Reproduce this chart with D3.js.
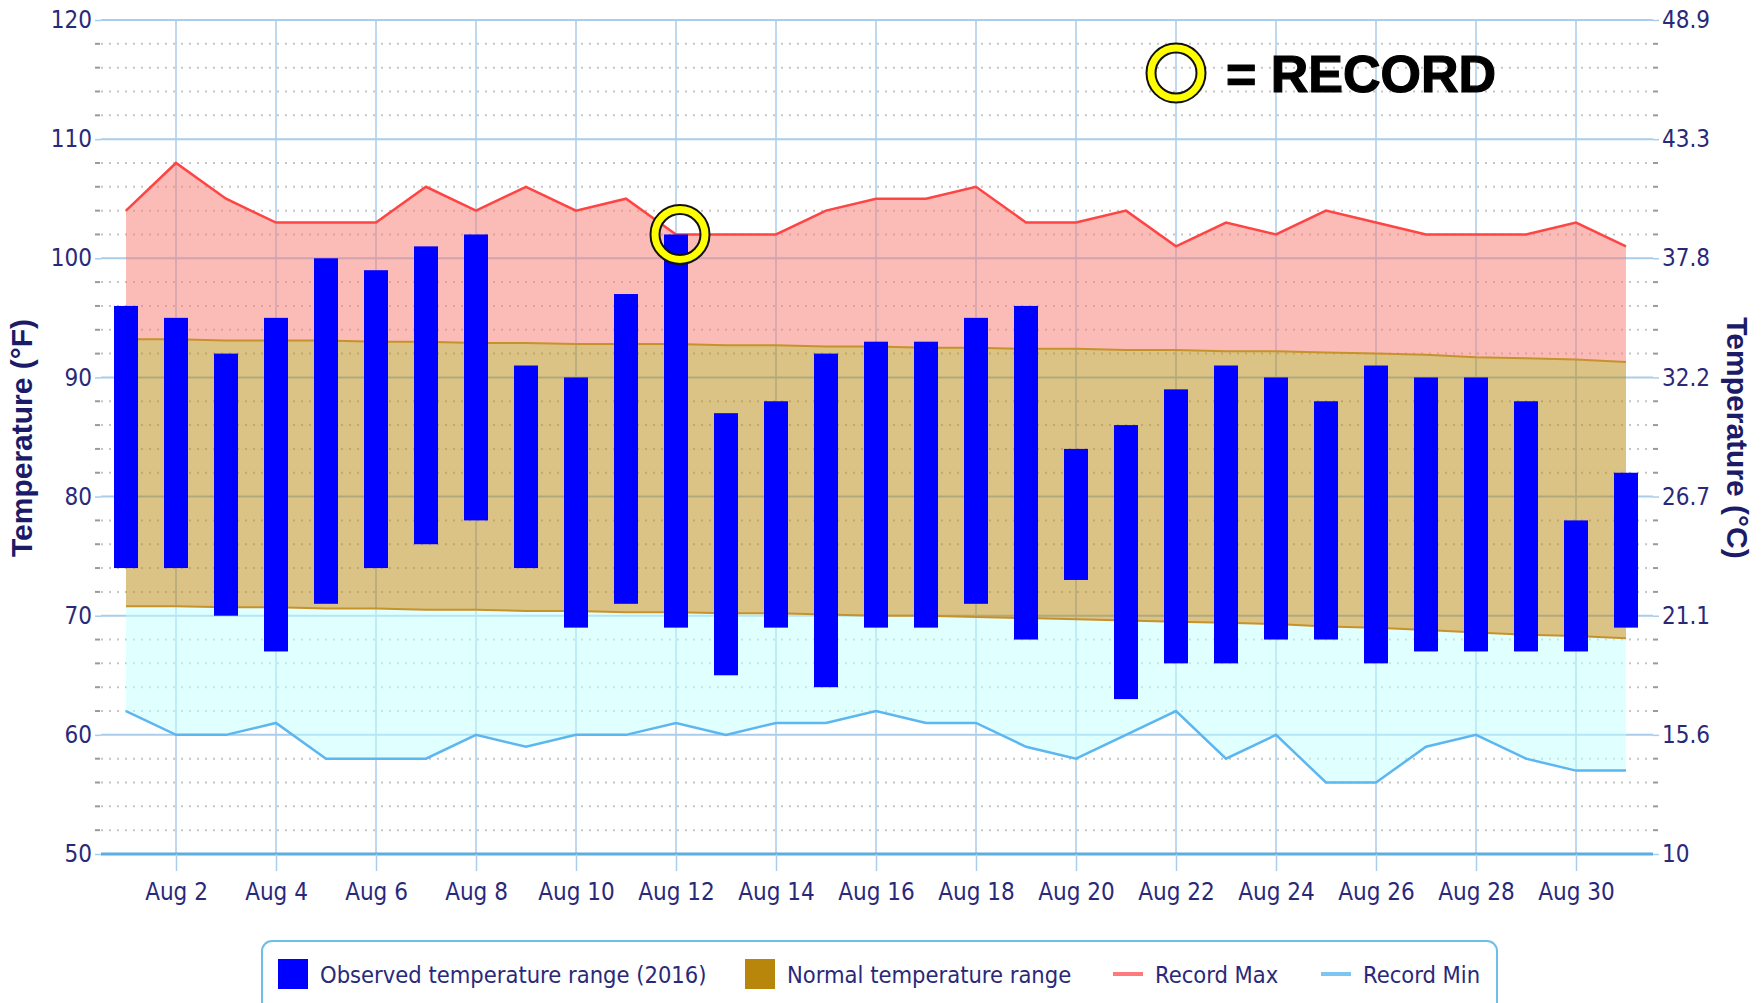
<!DOCTYPE html>
<html>
<head>
<meta charset="utf-8">
<script src="https://cdn.jsdelivr.net/npm/d3@7/dist/d3.min.js"></script>
<style>
  body { margin: 0; background: #fff; }
  svg { display: block; }
  .tick text { font-family: "DejaVu Sans Condensed", "Liberation Sans Narrow", sans-serif; fill: #29297a; }
</style>
</head>
<body>
<svg id="chart" width="1763" height="1003"></svg>
<script>
// august 2016 daily data (deg F)
var days = [1,2,3,4,5,6,7,8,9,10,11,12,13,14,15,16,17,18,19,20,21,22,23,24,25,26,27,28,29,30,31]
var obsHigh = [96,95,92,95,100,99,101,102,91,90,97,102,87,88,92,93,93,95,96,84,86,89,91,90,88,91,90,90,88,78,82]
var obsLow = [74,74,70,67,71,74,76,78,74,69,71,69,65,69,64,69,69,71,68,73,63,66,66,68,68,66,67,67,67,67,69]
var normalHigh = [93.2,93.2,93.1,93.1,93.1,93.0,93.0,92.9,92.9,92.8,92.8,92.8,92.7,92.7,92.6,92.6,92.5,92.5,92.4,92.4,92.3,92.3,92.2,92.2,92.1,92.0,91.9,91.7,91.6,91.5,91.3]
var normalLow = [70.8,70.8,70.7,70.7,70.6,70.6,70.5,70.5,70.4,70.4,70.3,70.3,70.2,70.2,70.1,70.0,70.0,69.9,69.8,69.7,69.6,69.5,69.4,69.3,69.1,69.0,68.8,68.6,68.4,68.3,68.1]
var recordMax = [104,108,105,103,103,103,106,104,106,104,105,102,102,102,104,105,105,106,103,103,104,101,103,102,104,103,102,102,102,103,101]
var recordMin = [62,60,60,61,58,58,58,60,59,60,60,61,60,61,61,62,61,61,59,58,60,62,58,60,56,56,59,60,58,57,57]

// days where the observed high set a record
var recordDays = [12]

// axis ticks
var fTicks = [50,60,70,80,90,100,110,120]
var cLabels = ['10','15.6','21.1','26.7','32.2','37.8','43.3','48.9']
var minorTicks = [52,54,56,58,62,64,66,68,72,74,76,78,82,84,86,88,92,94,96,98,102,104,106,108,112,114,116,118]
var xTickDays = [2,4,6,8,10,12,14,16,18,20,22,24,26,28,30]

var legendItems = ['Observed temperature range (2016)','Normal temperature range','Record Max','Record Min']

var rows = days.map(function(d,i){
  return {day:d, hi:obsHigh[i], lo:obsLow[i], nh:normalHigh[i], nl:normalLow[i], rmax:recordMax[i], rmin:recordMin[i]}
})

var FONT = '"DejaVu Sans Condensed","Liberation Sans Narrow",sans-serif'
var plotL = 101, plotR = 1653, plotT = 20, plotB = 854

var svg = d3.select('#chart')

var x = d3.scaleLinear().domain([0.5, 31.5]).range([plotL, plotL + 31*50])
var y = d3.scaleLinear().domain([50, 120]).range([plotB, plotT])

// minor dotted grid
svg.append('g').selectAll('line')
  .data(minorTicks).enter().append('line')
  .attr('x1', plotL).attr('x2', plotR)
  .attr('y1', function(d){return y(d)}).attr('y2', function(d){return y(d)})
  .style('stroke', '#c6c6c6').style('stroke-width', 2)
  .style('stroke-dasharray', '2,6')
svg.append('g').selectAll('line')
  .data(minorTicks).enter().append('line')
  .attr('x1', plotL - 6).attr('x2', plotL - 1)
  .attr('y1', function(d){return y(d)}).attr('y2', function(d){return y(d)})
  .style('stroke', '#9a9a9a').style('stroke-width', 2)
svg.append('g').selectAll('line')
  .data(minorTicks).enter().append('line')
  .attr('x1', plotR).attr('x2', plotR + 5)
  .attr('y1', function(d){return y(d)}).attr('y2', function(d){return y(d)})
  .style('stroke', '#9a9a9a').style('stroke-width', 2)

// vertical grid
svg.append('g').selectAll('line')
  .data(xTickDays).enter().append('line')
  .attr('x1', function(d){return x(d)}).attr('x2', function(d){return x(d)})
  .attr('y1', plotT).attr('y2', plotB)
  .style('stroke', '#a9cdea').style('stroke-width', 1.5)

// major horizontal grid
svg.append('g').selectAll('line')
  .data(fTicks).enter().append('line')
  .attr('x1', plotL).attr('x2', plotR)
  .attr('y1', function(d){return y(d)}).attr('y2', function(d){return y(d)})
  .style('stroke', function(d){return d == 50 ? '#5aaee2' : '#a9cdea'})
  .style('stroke-width', function(d){return d == 50 ? 3 : 2})

// shaded bands
function band(hiKey, loKey){
  return d3.area()
    .x(function(d){return x(d.day)})
    .y0(function(d){return y(d[loKey])})
    .y1(function(d){return y(d[hiKey])})
}
svg.append('path').datum(rows).attr('d', band('rmax','nh'))
  .style('fill', '#f87a72').style('opacity', 0.5)
svg.append('path').datum(rows).attr('d', band('nh','nl'))
  .style('fill', '#b8860b').style('opacity', 0.5)
svg.append('path').datum(rows).attr('d', band('nl','rmin'))
  .style('fill', '#c2ffff').style('opacity', 0.5)

function edge(key){
  return d3.line().x(function(d){return x(d.day)}).y(function(d){return y(d[key])})
}
svg.append('path').datum(rows).attr('d', edge('nh'))
  .style('fill','none').style('stroke','#c8922a').style('stroke-width',2)
svg.append('path').datum(rows).attr('d', edge('nl'))
  .style('fill','none').style('stroke','#c8922a').style('stroke-width',2)
svg.append('path').datum(rows).attr('d', edge('rmax'))
  .style('fill','none').style('stroke','#ff4444').style('stroke-width',2.5)
svg.append('path').datum(rows).attr('d', edge('rmin'))
  .style('fill','none').style('stroke','#5cb6f0').style('stroke-width',2.5)

// observed bars
var barW = 24
svg.append('g').selectAll('rect')
  .data(rows).enter().append('rect')
  .attr('x', function(d){return x(d.day) - barW/2})
  .attr('y', function(d){return y(d.hi)})
  .attr('width', barW)
  .attr('height', function(d){return y(d.lo) - y(d.hi)})
  .style('fill', '#0000ff')

// record ring marker
function ring(g, cx, cy){
  g.append('circle').attr('cx', cx).attr('cy', cy).attr('r', 25)
    .style('fill','none').style('stroke','#111').style('stroke-width', 11)
  g.append('circle').attr('cx', cx).attr('cy', cy).attr('r', 25)
    .style('fill','none').style('stroke','#ffff00').style('stroke-width', 7)
}
var marks = svg.append('g')
recordDays.forEach(function(d){
  ring(marks, x(d) + 4, y(obsHigh[d-1]))
})
ring(marks, 1176, 73)
marks.append('text').attr('x', 1226).attr('y', 92)
  .style('font-family', '"Liberation Sans", Arial, sans-serif')
  .style('font-weight', 900).style('font-size', '52px').style('fill', '#000')
  .style('stroke', '#000').style('stroke-width', 1.2)
  .text('= RECORD')

// axes
var yLeft = svg.append('g').attr('transform', 'translate(' + plotL + ',0)')
  .call(d3.axisLeft(y).tickValues(fTicks).tickSize(6).tickPadding(3))
var yRight = svg.append('g').attr('transform', 'translate(' + plotR + ',0)')
  .call(d3.axisRight(y).tickValues(fTicks).tickSize(6).tickPadding(3)
    .tickFormat(function(d,i){return cLabels[i]}))
var xAxis = svg.append('g').attr('transform', 'translate(0,' + plotB + ')')
  .call(d3.axisBottom(x).tickValues(xTickDays).tickSize(17).tickPadding(12)
    .tickFormat(function(d){return 'Aug ' + d}))

;[yLeft, yRight, xAxis].forEach(function(a){
  a.select('.domain').remove()
  a.selectAll('.tick text').style('font-size', '24px')
  a.selectAll('.tick line').style('stroke', '#a9cdea').style('stroke-width', 1.5)
})

svg.append('text')
  .attr('transform', 'translate(32,438) rotate(-90)')
  .attr('text-anchor', 'middle')
  .style('font-family', '"Liberation Sans", Arial, sans-serif')
  .style('font-weight', 'bold').style('font-size', '30px').style('fill', '#1b1b68')
  .text('Temperature (°F)')
svg.append('text')
  .attr('transform', 'translate(1727,438) rotate(90)')
  .attr('text-anchor', 'middle')
  .style('font-family', '"Liberation Sans", Arial, sans-serif')
  .style('font-weight', 'bold').style('font-size', '30px').style('fill', '#1b1b68')
  .text('Temperature (°C)')

// legend
var legend = svg.append('g')
legend.append('rect').attr('x', 262).attr('y', 941).attr('width', 1235).attr('height', 90)
  .attr('rx', 10).style('fill', '#fff').style('stroke', '#6cbfe6').style('stroke-width', 2)

var legendX = [278, 745, 1113, 1321]
var legendY = 974
legendItems.forEach(function(name, i){
  var gx = legendX[i]
  if(i < 2){
    legend.append('rect').attr('x', gx).attr('y', legendY - 15).attr('width', 30).attr('height', 30)
      .style('fill', i == 0 ? '#0000ff' : '#b8860b')
  }else{
    legend.append('line').attr('x1', gx).attr('x2', gx + 30)
      .attr('y1', legendY).attr('y2', legendY)
      .style('stroke', i == 2 ? '#ff7b7b' : '#7ec6f2').style('stroke-width', 4)
  }
  legend.append('text').attr('x', gx + 42).attr('y', legendY + 9)
    .style('font-family', FONT).style('font-size', '23.5px').style('fill', '#29297a')
    .text(name)
})
</script>
</body>
</html>
